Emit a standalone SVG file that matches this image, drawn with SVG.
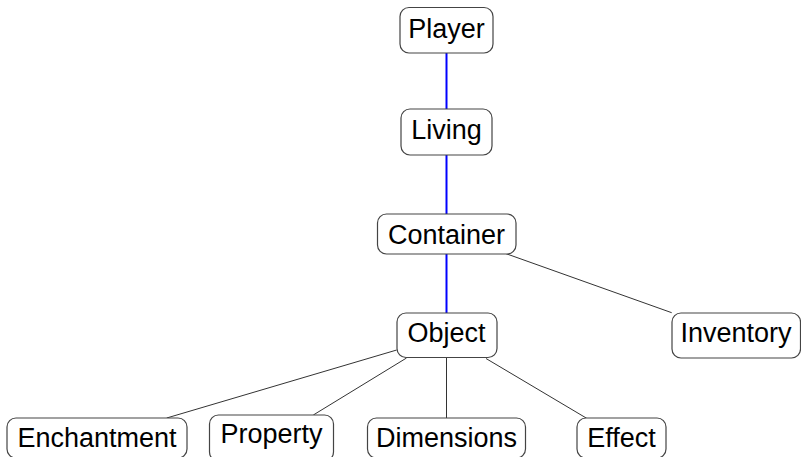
<svg xmlns="http://www.w3.org/2000/svg" width="801" height="457" viewBox="0 0 801 457">
<style>
.box{fill:#fff;stroke:#444;stroke-width:1.2}
.lbl{font-family:"Liberation Sans",Arial,sans-serif;font-size:27px;fill:#000;text-anchor:middle}
.blue{stroke:#0000ff;stroke-width:2;fill:none}
.gray{stroke:#333;stroke-width:1;fill:none}
</style>
<rect width="801" height="457" fill="#fff"/>
<g id="connectors">
<line class="blue" x1="446.5" y1="53" x2="446.5" y2="109"/>
<line class="blue" x1="446.5" y1="155" x2="446.5" y2="214"/>
<line class="blue" x1="446.5" y1="254" x2="446.5" y2="313"/>
<line class="gray" x1="505" y1="253.3" x2="671.7" y2="312.7"/>
<line class="gray" x1="396.7" y1="350" x2="166.7" y2="418"/>
<line class="gray" x1="406.5" y1="358" x2="313.3" y2="415"/>
<line class="gray" x1="446.5" y1="357" x2="446.5" y2="418"/>
<line class="gray" x1="486" y1="358.5" x2="586.7" y2="418.3"/>
</g>
<g id="player"><rect class="box" x="400" y="7.5" width="93" height="45.5" rx="9"/><text class="lbl" x="446.5" y="37.5">Player</text></g>
<g id="living"><rect class="box" x="401" y="109" width="91" height="46" rx="9"/><text class="lbl" x="446.5" y="138.7">Living</text></g>
<g id="container"><rect class="box" x="377.5" y="214" width="138.5" height="40" rx="9"/><text class="lbl" x="446.5" y="243.6">Container</text></g>
<g id="object"><rect class="box" x="397" y="313" width="100" height="44.5" rx="9"/><text class="lbl" x="446.5" y="342">Object</text></g>
<g id="inventory"><rect class="box" x="672" y="313" width="128.5" height="45" rx="9"/><text class="lbl" x="736" y="342">Inventory</text></g>
<g id="enchantment"><rect class="box" x="7" y="418" width="180" height="40" rx="9"/><text class="lbl" x="97" y="446.7">Enchantment</text></g>
<g id="property"><rect class="box" x="209.5" y="415" width="124" height="46" rx="9"/><text class="lbl" x="271.5" y="442.5">Property</text></g>
<g id="dimensions"><rect class="box" x="367.5" y="418" width="158" height="40" rx="9"/><text class="lbl" x="446.5" y="446.7">Dimensions</text></g>
<g id="effect"><rect class="box" x="577" y="418" width="89" height="40" rx="9"/><text class="lbl" x="621.5" y="446.7">Effect</text></g>
</svg>
